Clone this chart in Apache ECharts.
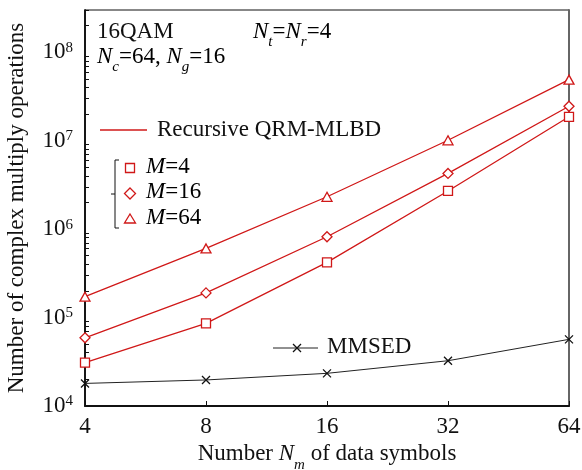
<!DOCTYPE html>
<html lang="en">
<head>
    <meta charset="UTF-8">
    <title>chart</title>
    <script src="https://cdn.jsdelivr.net/npm/echarts@6/dist/echarts.min.js"></script>
    <style>
        body{margin:0;background:#fff;}
        #main{width:582px;height:470px;}
    </style>
</head>
<body>
<div id="main"></div>
<script>
    // 数据
    var symbolCounts = ['4', '8', '16', '32', '64'];
    var qrmM4  = [3.1e4, 8.6e4, 4.2e5, 2.7e6, 1.86e7];
    var qrmM16 = [5.9e4, 1.9e5, 8.2e5, 4.26e6, 2.45e7];
    var qrmM64 = [1.72e5, 6.05e5, 2.32e6, 1.01e7, 4.9e7];
    var mmsed  = [1.8e4, 1.97e4, 2.34e4, 3.25e4, 5.67e4];
    var majorTicks = [1e4, 1e5, 1e6, 1e7, 1e8];

    var red = '#d01818';
    var font = 'Liberation Serif';
    var fs = 23, fsSmall = 15;

    var minorTicks = [];
    for (var e = 4; e <= 8; e++) {
        for (var k = 2; k <= 9; k++) {
            var v = k * Math.pow(10, e);
            if (v <= 3e8) minorTicks.push(v);
        }
    }

    var richMath = {
        n: {fontFamily: font, fontSize: fs, color: '#111', lineHeight: 26},
        i: {fontFamily: font, fontSize: fs, fontStyle: 'italic', color: '#111', lineHeight: 26},
        sb: {fontFamily: font, fontSize: fsSmall, fontStyle: 'italic', color: '#111', lineHeight: 15, verticalAlign: 'bottom', padding: [0, 0, -5, 0]}
    };

    var myChart = echarts.init(document.getElementById('main'));
    var option = {
        animation: false,
        textStyle: {fontFamily: font, color: '#111'},
        grid: {left: 85, right: 13, top: 10, bottom: 64, outerBoundsMode: 'none', show: true, borderColor: '#111', borderWidth: 1},
        xAxis: {
            type: 'category',
            data: symbolCounts,
            boundaryGap: false,
            name: '{n|Number }{i|N}{sb|m}{n| of data symbols}',
            nameLocation: 'middle',
            nameGap: 34,
            nameTextStyle: {rich: richMath},
            axisLine: {lineStyle: {color: '#111', width: 2}},
            axisTick: {inside: true, length: 5, lineStyle: {color: '#111'}},
            axisLabel: {fontFamily: font, fontSize: fs, color: '#111', margin: 9},
            splitLine: {show: false}
        },
        yAxis: [{
            type: 'log',
            min: 1e4,
            max: 3e8,
            name: 'Number of complex multiply operations',
            nameLocation: 'middle',
            nameGap: 57,
            nameTextStyle: {fontFamily: font, fontSize: fs, color: '#111'},
            axisLine: {show: true, lineStyle: {color: '#111', width: 1.5}},
            axisTick: {inside: true, length: 6, customValues: majorTicks, lineStyle: {color: '#111'}},
            axisLabel: {
                customValues: majorTicks,
                margin: 12,
                formatter: function (val) {
                    return '{b|10}{s|' + Math.round(Math.log10(val)) + '}';
                },
                rich: {
                    b: {fontFamily: font, fontSize: fs, color: '#111', lineHeight: 24},
                    s: {fontFamily: font, fontSize: fsSmall, color: '#111', lineHeight: 24, verticalAlign: 'top', padding: [0, 0, 9, 0]}
                }
            },
            splitLine: {show: false}
        }, {
            type: 'log',
            min: 1e4,
            max: 3e8,
            position: 'left',
            axisLine: {show: true, lineStyle: {color: '#111', width: 1.5}},
            axisTick: {show: true, inside: true, length: 4, customValues: minorTicks, lineStyle: {color: '#111'}},
            axisLabel: {show: false},
            splitLine: {show: false}
        }, {
            type: 'log',
            min: 1e4,
            max: 3e8,
            position: 'right',
            axisLine: {show: true, lineStyle: {color: '#666', width: 2}},
            axisTick: {show: false},
            axisLabel: {show: false},
            splitLine: {show: false}
        }],
        series: [{
            name: 'M=4', type: 'line', data: qrmM4,
            symbol: 'rect', symbolSize: 9,
            lineStyle: {color: red, width: 1.3},
            itemStyle: {color: '#fff', borderColor: red, borderWidth: 1.3}
        }, {
            name: 'M=16', type: 'line', data: qrmM16,
            symbol: 'diamond', symbolSize: 10,
            lineStyle: {color: red, width: 1.3},
            itemStyle: {color: '#fff', borderColor: red, borderWidth: 1.3}
        }, {
            name: 'M=64', type: 'line', data: qrmM64,
            symbol: 'triangle', symbolSize: [10, 9],
            lineStyle: {color: red, width: 1.3},
            itemStyle: {color: '#fff', borderColor: red, borderWidth: 1.3}
        }, {
            name: 'MMSED', type: 'line', data: mmsed,
            symbol: 'path://M0,0L10,10M0,10L10,0', symbolSize: 8,
            lineStyle: {color: '#222', width: 1},
            itemStyle: {color: 'none', borderColor: '#111', borderWidth: 1.3}
        }],
        graphic: [
            // 左上角标注
            {type: 'text', left: 97, top: 20, style: {text: '16QAM', font: fs + 'px "Liberation Serif"', fill: '#111'}},
            {type: 'text', left: 97, top: 45, style: {text: '{i|N}{sb|c}{n|=64, }{i|N}{sb|g}{n|=16}', rich: richMath}},
            {type: 'text', left: 253, top: 20, style: {text: '{i|N}{sb|t}{n|=}{i|N}{sb|r}{n|=4}', rich: richMath}},
            // 图例
            {type: 'line', shape: {x1: 100, y1: 130, x2: 147, y2: 130}, style: {stroke: red, lineWidth: 1.3}},
            {type: 'text', left: 157, top: 118, style: {text: 'Recursive QRM-MLBD', font: fs + 'px "Liberation Serif"', fill: '#111'}},
            {type: 'polyline', shape: {points: [[119, 160], [115, 160], [115, 228], [119, 228]]}, style: {stroke: '#111', lineWidth: 1, fill: 'none'}},
            {type: 'line', shape: {x1: 111, y1: 194, x2: 115, y2: 194}, style: {stroke: '#111', lineWidth: 1}},
            {type: 'rect', shape: {x: 125.5, y: 163.5, width: 9, height: 9}, style: {stroke: red, lineWidth: 1.3, fill: '#fff'}},
            {type: 'polygon', shape: {points: [[130, 188], [135.5, 193.5], [130, 199], [124.5, 193.5]]}, style: {stroke: red, lineWidth: 1.3, fill: '#fff'}},
            {type: 'polygon', shape: {points: [[130, 214], [135.5, 223], [124.5, 223]]}, style: {stroke: red, lineWidth: 1.3, fill: '#fff'}},
            {type: 'text', left: 146, top: 155, style: {text: '{i|M}{n|=4}', rich: richMath}},
            {type: 'text', left: 146, top: 180, style: {text: '{i|M}{n|=16}', rich: richMath}},
            {type: 'text', left: 146, top: 206, style: {text: '{i|M}{n|=64}', rich: richMath}},
            {type: 'line', shape: {x1: 273, y1: 348, x2: 318, y2: 348}, style: {stroke: '#222', lineWidth: 1}},
            {type: 'polyline', shape: {points: [[293, 344], [301, 352]]}, style: {stroke: '#111', lineWidth: 1.3, fill: 'none'}},
            {type: 'polyline', shape: {points: [[293, 352], [301, 344]]}, style: {stroke: '#111', lineWidth: 1.3, fill: 'none'}},
            {type: 'text', left: 327, top: 335, style: {text: 'MMSED', font: fs + 'px "Liberation Serif"', fill: '#111'}}
        ]
    };
    myChart.setOption(option, true);
</script>
</body>
</html>
